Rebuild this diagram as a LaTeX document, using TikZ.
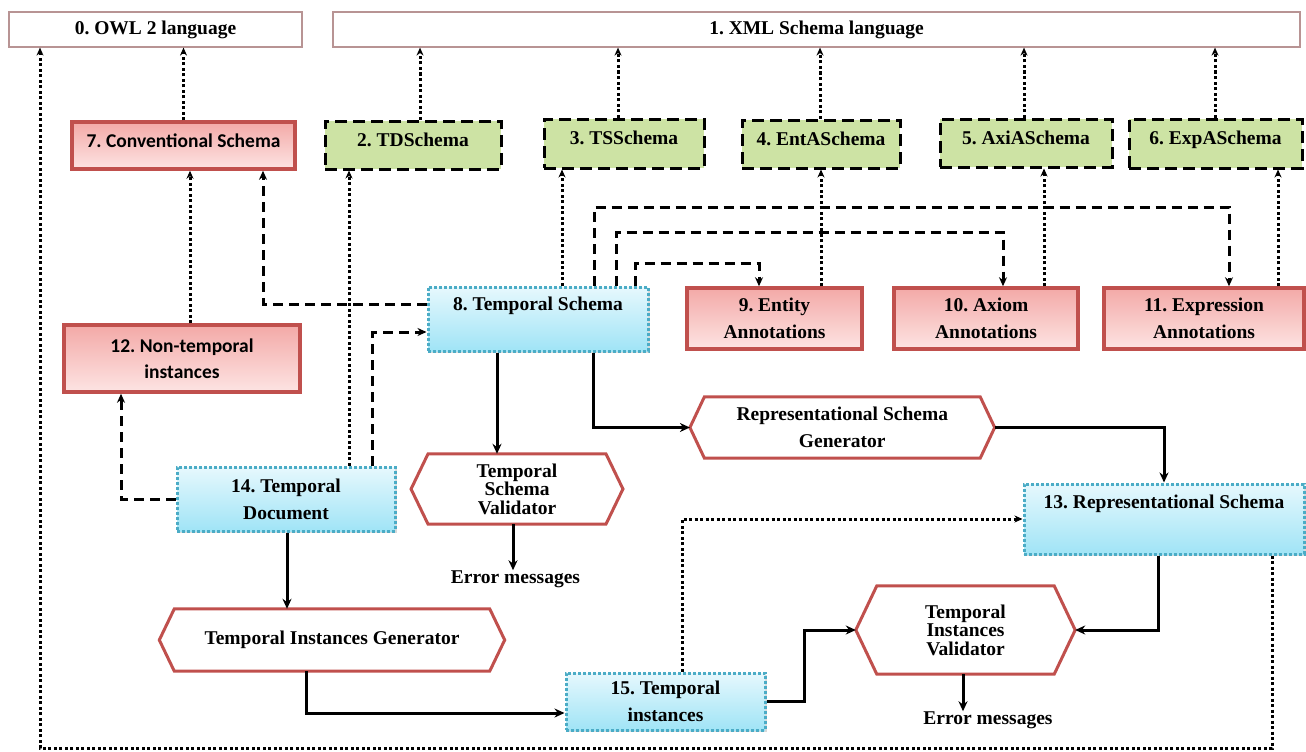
\documentclass[tikz,border=0pt]{standalone}
\usepackage{fontspec}
\setmainfont{Liberation Serif}
\newfontfamily\calibfont{Carlito}
\usetikzlibrary{arrows.meta,shadows}
\definecolor{redline}{HTML}{C0504D}
\definecolor{redtop}{HTML}{F3A9A7}
\definecolor{redbot}{HTML}{FDE4E3}
\definecolor{bluetop}{HTML}{E6F8FD}
\definecolor{bluebot}{HTML}{A0E4F6}
\definecolor{blueline}{HTML}{4BACC6}
\definecolor{greenfill}{HTML}{CDE3A4}
\definecolor{topline}{HTML}{B89494}
\newcommand\hexbox[2]{\draw[hexline] (#1.north west) -- (#1.north east) -- ([xshift=#2pt]#1.east) -- (#1.south east) -- (#1.south west) -- ([xshift=-#2pt]#1.west) -- cycle;}
\frenchspacing
\begin{document}
\begin{tikzpicture}[x=1pt,y=-1pt,
  every node/.style={font=\bfseries\fontsize{19.5}{27}\selectfont, inner sep=0pt, align=center},
  topbox/.style={draw=topline, line width=1.2pt, fill=white},
  redbox/.style={draw=redline, line width=3.5pt, top color=redtop, bottom color=redbot,
    drop shadow={opacity=0.3,shadow xshift=2pt,shadow yshift=-2pt}},
  calibri/.style={font=\calibfont\bfseries\fontsize{19.5}{26}\selectfont},
  bluebox/.style={draw=blueline, line width=3pt, dash pattern=on 3pt off 2pt, top color=bluetop, bottom color=bluebot,
    drop shadow={opacity=0.3,shadow xshift=2pt,shadow yshift=-2pt}},
  greenbox/.style={draw=black, line width=3pt, dash pattern=on 12pt off 6pt, fill=greenfill, text depth=11pt},
  hexnode/.style={draw=none},
  tight/.style={font=\bfseries\fontsize{19.5}{18.5}\selectfont},
  hexline/.style={draw=redline, line width=3pt, line join=miter},
  dotarr/.style={line width=3pt, dash pattern=on 3pt off 2.5pt, -{Stealth[length=8pt,width=7pt]}},
  dasharr/.style={line width=3pt, dash pattern=on 10pt off 6pt, -{Stealth[length=9pt,width=8pt]}},
  solarr/.style={line width=3pt, -{Stealth[length=10pt,width=9pt]}}
]
\useasboundingbox (0,0) rectangle (1306,752);
% top boxes
\node[topbox, minimum width=293, minimum height=35] (owl) at (155.5,29.5) {0. OWL 2 language};
\node[topbox, minimum width=967, minimum height=35] (xml) at (816.5,29.5) {1. XML Schema language};
% row of schemas
\node[redbox, calibri, text depth=9pt, minimum width=223, minimum height=47] (c7) at (183.5,145.5) {7. Conventional Schema};
\node[greenbox, minimum width=176, minimum height=48] (s2) at (413,145) {2. TDSchema};
\node[greenbox, minimum width=160, minimum height=49] (s3) at (624,143.5) {3. TSSchema};
\node[greenbox, minimum width=158, minimum height=48] (s4) at (821,144) {4. EntASchema};
\node[greenbox, minimum width=172, minimum height=48] (s5) at (1026,143) {5. AxiASchema};
\node[greenbox, minimum width=173, minimum height=49] (s6) at (1215.5,143.5) {6. ExpASchema};
% annotations
\node[bluebox, text depth=30pt, minimum width=220, minimum height=64] (n8) at (538,319) {8. Temporal Schema};
\node[redbox, minimum width=175, minimum height=61] (n9) at (774.5,318.5) {9. Entity\\Annotations};
\node[redbox, minimum width=184, minimum height=61] (n10) at (986,318.5) {10. Axiom\\Annotations};
\node[redbox, minimum width=200, minimum height=61] (n11) at (1204,318.5) {11. Expression\\Annotations};
\node[redbox, calibri, minimum width=236, minimum height=67] (n12) at (182,358.5) {12. Non-temporal\\instances};
% lower part
\node[bluebox, text depth=34pt, minimum width=280, minimum height=70] (n13) at (1164,519) {13. Representational Schema};
\node[bluebox, minimum width=218, minimum height=64] (n14) at (286,499) {14. Temporal\\Document};
\node[bluebox, minimum width=199, minimum height=57] (n15) at (665.5,701.5) {15. Temporal\\instances};
% hexagons
\node[hexnode, tight, minimum width=177.5, minimum height=70] (tsv) at (517,489) {Temporal\\Schema\\Validator};
\node[hexnode, minimum width=275.4, minimum height=61] (rsg) at (842.3,427.5) {Representational Schema\\Generator};
\node[hexnode, minimum width=315, minimum height=62] (tig) at (332,640) {Temporal Instances Generator};
\node[hexnode, tight, minimum width=177, minimum height=88] (tiv) at (965.5,630) {Temporal\\Instances\\Validator};
\hexbox{tsv}{17}
\hexbox{rsg}{14.5}
\hexbox{tig}{15}
\hexbox{tiv}{21}
\node (em1) at (515.5,579) {Error messages};
\node (em2) at (988,720) {Error messages};
% dotted connectors
\draw[dotarr] (n13.south -| 1272,0) -- (1272,748) -- (40,748) -- (owl.south -| 40,0);
\draw[dotarr] (c7.north) -- (c7.north |- owl.south);
\draw[dotarr] (s2.north -| 420,0) -- (xml.south -| 420,0);
\draw[dotarr] (s3.north -| 618,0) -- (xml.south -| 618,0);
\draw[dotarr] (s4.north -| 820,0) -- (xml.south -| 820,0);
\draw[dotarr] (s5.north -| 1024,0) -- (xml.south -| 1024,0);
\draw[dotarr] (s6.north -| 1215,0) -- (xml.south -| 1215,0);
\draw[dotarr] (n12.north -| 190,0) -- (c7.south -| 190,0);
\draw[dotarr] (n8.north -| 562,0) -- (s3.south -| 562,0);
\draw[dotarr] (n14.north -| 349,0) -- (s2.south -| 349,0);
\draw[dotarr] (n9.north -| 821,0) -- (s4.south -| 821,0);
\draw[dotarr] (n10.north -| 1044,0) -- (s5.south -| 1044,0);
\draw[dotarr] (n11.north -| 1278,0) -- (s6.south -| 1278,0);
\draw[dotarr] (n15.north -| 682,0) |- (n13.west);
% dashed connectors
\draw[dasharr] (n8.west |- 0,304) -| (c7.south -| 263,0);
\draw[dasharr] (n14.north -| 372.5,0) |- (n8.west |- 0,332);
\draw[dasharr] (n14.west) -| (n12.south -| 121,0);
\draw[dasharr] (n8.north -| 594,0) -- (594,207) -| (n11.north -| 1229,0);
\draw[dasharr] (n8.north -| 616,0) -- (616,232) -| (n10.north -| 1003,0);
\draw[dasharr] (n8.north -| 635,0) -- (635,263) -| (n9.north -| 759,0);
% solid connectors
\draw[solarr] (n8.south -| 497,0) -- (tsv.north -| 497,0);
\draw[solarr] (n8.south -| 593,0) |- ([xshift=-14.5pt]rsg.west);
\draw[solarr] ([xshift=14.5pt]rsg.east) -| (n13.north);
\draw[solarr] (tsv.south -| 513,0) -- (em1.north -| 513,0);
\draw[solarr] (n14.south -| 287,0) -- (tig.north -| 287,0);
\draw[solarr] (tig.south -| 306,0) |- (n15.west |- 0,713);
\draw[solarr] (n15.east) -- ++(38,0) |- ([xshift=-21pt]tiv.west);
\draw[solarr] (n13.south -| 1158,0) |- ([xshift=21pt]tiv.east);
\draw[solarr] (tiv.south -| 963,0) -- (em2.north -| 963,0);
\end{tikzpicture}
\end{document}
